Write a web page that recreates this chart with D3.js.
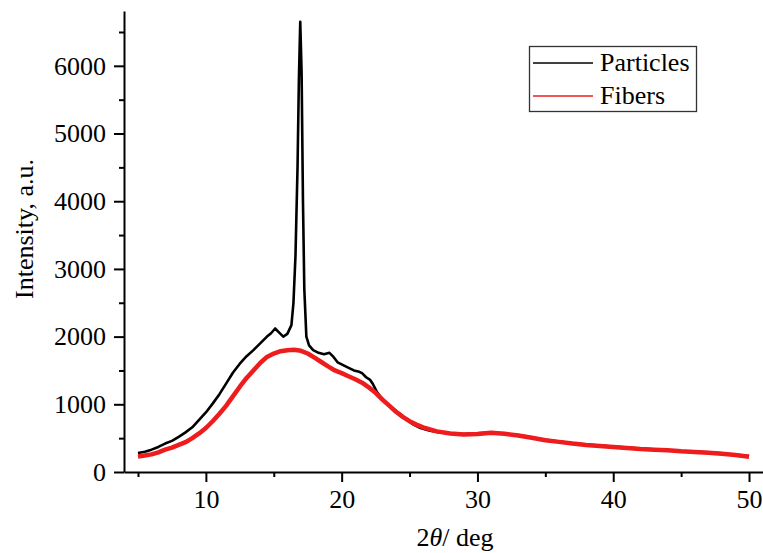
<!DOCTYPE html>
<html>
<head>
<meta charset="utf-8">
<script src="https://cdn.jsdelivr.net/npm/d3@7"></script>
<style>
  html, body { margin: 0; padding: 0; background: #fff; }
  svg { display: block; }
  text { font-family: "Liberation Serif", "Times New Roman", serif; fill: #000; }
</style>
</head>
<body>
<svg id="chart" width="763" height="553"></svg>
<script>
// ---- data ----
const particlesX = [5.0,5.5,6.0,6.5,7.0,7.5,8.0,8.5,9.0,9.5,10.0,10.5,11.0,11.5,12.0,12.5,13.0,13.5,14.0,14.5,14.8,15.1,15.4,15.7,16.0,16.3,16.45,16.6,16.75,16.85,16.95,17.05,17.15,17.25,17.4,17.6,17.9,18.3,18.7,19.1,19.4,19.7,20.0,20.4,20.9,21.3,21.5,21.8,22.1,22.3,22.6,22.9,23.3,23.8,24.3,24.8,25.3,25.8,26.5,27.2,28,29,30,31,32,33,34,35,36,37,38,39,40,41,42,43,44,45,46,47,48,49,50];
const particlesY = [280,300,330,370,420,460,520,585,660,770,880,1010,1150,1310,1470,1600,1710,1800,1900,2000,2050,2120,2060,2000,2040,2170,2500,3200,4500,5800,6650,5900,4000,2700,2000,1870,1800,1760,1740,1760,1700,1620,1590,1550,1500,1480,1460,1400,1360,1300,1180,1100,1020,930,860,770,700,650,610,585,570,560,570,580,565,545,510,475,450,425,405,390,375,360,345,335,325,310,300,290,275,255,235];

const fibersX = [5.0,5.5,6.0,6.5,7.0,7.5,8.0,8.5,9.0,9.5,10.0,10.5,11.0,11.5,12.0,12.5,13.0,13.5,14.0,14.5,15.0,15.5,16.0,16.5,17.0,17.5,18.0,18.5,19.0,19.5,20.0,20.5,21.0,21.5,22.0,22.5,23.0,23.5,24.0,24.5,25.0,25.5,26.0,26.5,27,28,29,30,31,32,33,34,35,36,37,38,39,40,41,42,43,44,45,46,47,48,49,50];
const fibersY = [230,245,260,290,330,360,400,440,500,570,650,750,860,980,1120,1260,1390,1500,1610,1700,1750,1785,1800,1805,1790,1750,1690,1625,1560,1500,1460,1415,1370,1320,1250,1170,1070,980,890,815,750,700,660,630,600,570,555,560,580,565,540,505,470,445,420,400,385,370,355,340,330,320,305,295,285,270,250,225];

const xMajorTicks = [10, 20, 30, 40, 50];
const xMinorTicks = [5, 15, 25, 35, 45];
const yMajorTicks = [0, 1000, 2000, 3000, 4000, 5000, 6000];
const yMinorTicks = [500, 1500, 2500, 3500, 4500, 5500, 6500];

const seriesNames = ["Particles", "Fibers"];
const seriesColors = ["#000000", "#ee1c1c"];

const xTitle = "2θ/ deg";
const yTitle = "Intensity, a.u.";

// ---- drawing ----
const svg = d3.select("#chart");
const x = d3.scaleLinear().domain([3.97, 51.03]).range([124, 763]);
const y = d3.scaleLinear().domain([0, 6810]).range([472, 11]);

const line = d3.line().x(d => x(d[0])).y(d => y(d[1])).curve(d3.curveLinear);

const pData = particlesX.map((v, i) => [v, particlesY[i]]);
const fData = fibersX.map((v, i) => [v, fibersY[i]]);

svg.append("path").datum(pData).attr("d", line)
  .attr("fill", "none").attr("stroke", seriesColors[0])
  .attr("stroke-width", 2.6).attr("stroke-linejoin", "round");
svg.append("path").datum(fData).attr("d", line)
  .attr("fill", "none").attr("stroke", seriesColors[1])
  .attr("stroke-width", 4.5).attr("stroke-linejoin", "round");

// axes
const fontSize = 26;
svg.append("g").attr("transform", `translate(0,${y(0)})`)
  .call(d3.axisBottom(x).tickValues(xMajorTicks).tickFormat(d3.format("d")).tickSize(10).tickSizeOuter(0).tickPadding(8));
const xMinor = svg.append("g").attr("transform", `translate(0,${y(0)})`)
  .call(d3.axisBottom(x).tickValues(xMinorTicks).tickFormat("").tickSize(5).tickSizeOuter(0));
xMinor.select(".domain").remove();

svg.append("g").attr("transform", `translate(${x.range()[0]},0)`)
  .call(d3.axisLeft(y).tickValues(yMajorTicks).tickFormat(d3.format("d")).tickSize(10).tickSizeOuter(0).tickPadding(8));
const yMinor = svg.append("g").attr("transform", `translate(${x.range()[0]},0)`)
  .call(d3.axisLeft(y).tickValues(yMinorTicks).tickFormat("").tickSize(5).tickSizeOuter(0));
yMinor.select(".domain").remove();

svg.selectAll(".domain, .tick line").attr("stroke", "#000").attr("stroke-width", 2);
svg.selectAll(".tick text")
  .attr("font-family", '"Liberation Serif", "Times New Roman", serif')
  .attr("font-size", fontSize).attr("fill", "#000");

// axis titles
const xt = svg.append("text").attr("x", 455).attr("y", 546)
  .attr("text-anchor", "middle").attr("font-size", fontSize);
xt.append("tspan").text(xTitle.slice(0, 1));
xt.append("tspan").attr("font-style", "italic").text(xTitle.slice(1, 2));
xt.append("tspan").text(xTitle.slice(2));

svg.append("text").attr("transform", "translate(33,229) rotate(-90)")
  .attr("text-anchor", "middle").attr("font-size", fontSize).text(yTitle);

// legend
const lg = svg.append("g");
lg.append("rect").attr("x", 529.5).attr("y", 46.5).attr("width", 167).attr("height", 65)
  .attr("fill", "#fff").attr("stroke", "#333").attr("stroke-width", 1.3);
const legendRows = [63, 96];
seriesNames.forEach((name, i) => {
  lg.append("line").attr("x1", 533).attr("x2", 593)
    .attr("y1", legendRows[i]).attr("y2", legendRows[i])
    .attr("stroke", seriesColors[i]).attr("stroke-width", 1.3);
  lg.append("text").attr("x", 600).attr("y", legendRows[i] + 8)
    .attr("font-size", fontSize).text(name);
});
</script>
</body>
</html>
